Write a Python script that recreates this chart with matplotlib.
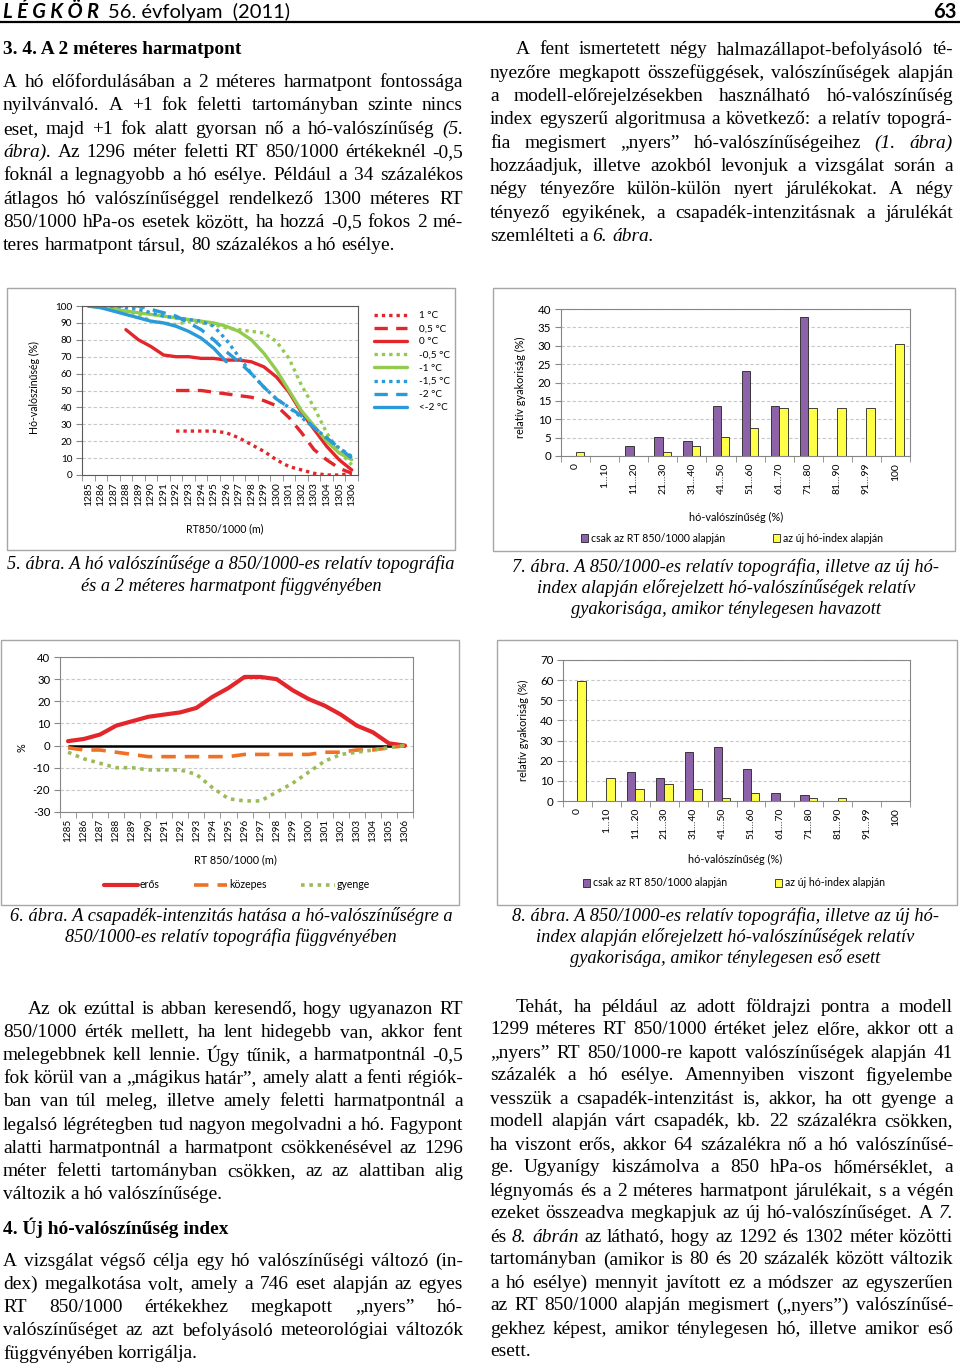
"""
Page 63 of LÉGKÖR 56 (2011): two-column text with figures 5-8
(snow probability vs. RT 850/1000, dew point and precipitation intensity).
"""
import numpy as np
import matplotlib
matplotlib.use("Agg")
import matplotlib.pyplot as plt
from matplotlib.patches import Rectangle
from matplotlib.lines import Line2D

plt.rcParams["axes.unicode_minus"] = False

W, H = 960, 1366
SERIF = "Liberation Serif"
SANS = "Lato"          # closest installed face to Calibri
BODY = 13.95

# ---------------- chart data ----------------
rt = ["1285", "1286", "1287", "1288", "1289", "1290", "1291", "1292", "1293", "1294", "1295",
      "1296", "1297", "1298", "1299", "1300", "1301", "1302", "1303", "1304", "1305", "1306"]

# fig 5: snow probability (%) by 2 m dew point class
dew_labels = ["1 °C", "0,5 °C", "0 °C", "-0,5 °C", "-1 °C", "-1,5 °C", "-2 °C", "<-2 °C"]
p_1 = [None] * 7 + [26, 26, 26, 26, 25, 22, 18, 14, 9, 5, 3, 1, 0, 0, 1]
p_05 = [None] * 7 + [50, 50, 50, 49, 48, 47, 46, 44, 41, 34, 25, 15, 9, 4, 1]
p_0 = [None] * 3 + [86, 80, 76, 71, 70, 70, 69, 69, 68, 68, 67, 64, 58, 49, 37, 27, 17, 9, 3]
p_m05 = [100, 100, 98, 97, 95, 91, 90, 89, 91, 90, 89, 87, 86, 85, 84, 79, 69, 53, 40, 25, 14, 6]
p_m1 = [100, 99, 98, 97, 96, 95, 94, 93, 92, 91, 90, 88, 85, 80, 72, 62, 50, 38, 29, 20, 13, 9]
p_m15 = [100, 100, 100, 99, 98, 96, 94, 93, 92, 91, 88, 80, 70, 60, 52, 45, 40, 34, 28, 22, 16, 11]
p_m2 = [100, 100, 100, 100, 100, 98, 96, 94, 90, 86, 80, 73, 67, 60, 52, 45, 40, 35, 28, 22, 16, 10]
p_lt2 = [100, 99, 97, 95, 93, 91, 90, 88, 85, 81, 75, 67] + [None] * 10

# fig 6: precipitation-intensity contribution (%)
eros = [2, 3, 5, 9, 11, 13, 14, 15, 17, 22, 26, 31, 31, 30, 25, 21, 18, 14, 9, 6, 1, 0]
kozepes = [-1, -2, -2, -3, -4, -5, -5, -5, -5, -5, -5, -4, -4, -4, -4, -4, -3, -3, -2, -2, -1, 0]
gyenge = [-3, -6, -8, -10, -10, -11, -11, -11, -13, -19, -24, -25, -25, -21, -17, -12, -7, -4, -3, -2, -1, 0]

# fig 7 / fig 8: relative frequency (%) of forecast probability classes
prob_bins = ["0", "1...10", "11...20", "21...30", "31...40", "41...50", "51...60",
             "61...70", "71...80", "81...90", "91...99", "100"]
snow_rt = [0, 0, 2.8, 5.1, 4.0, 13.6, 23.1, 13.6, 37.8, 0, 0, 0]
snow_idx = [1.1, 0, 0, 1.1, 2.8, 5.1, 7.5, 13.0, 13.0, 13.0, 13.0, 30.5]
rain_rt = [0, 0, 14.2, 11.3, 24.2, 27.0, 15.7, 4.2, 2.8, 0, 0, 0]
rain_idx = [59.8, 11.3, 5.8, 8.4, 5.8, 1.3, 4.1, 0, 1.3, 1.3, 0, 0]

# ---------------- page text ----------------
left_top = [
    "A hó előfordulásában a 2 méteres harmatpont fontossága",
    "nyilvánvaló. A +1 fok feletti tartományban szinte nincs",
    "eset, majd +1 fok alatt gyorsan nő a hó-valószínűség ~(5.",
    "~ábra). Az 1296 méter feletti RT 850/1000 értékeknél -0,5",
    "foknál a legnagyobb a hó esélye. Például a 34 százalékos",
    "átlagos hó valószínűséggel rendelkező 1300 méteres RT",
    "850/1000 hPa-os esetek között, ha hozzá -0,5 fokos 2 mé-",
    "teres harmatpont társul, 80 százalékos a hó esélye.",
]
right_top = [
    "A fent ismertetett négy halmazállapot-befolyásoló té-",
    "nyezőre megkapott összefüggések, valószínűségek alapján",
    "a modell-előrejelzésekben használható hó-valószínűség",
    "index egyszerű algoritmusa a következő: a relatív topográ-",
    "fia megismert „nyers” hó-valószínűségeihez ~(1. ~ábra)",
    "hozzáadjuk, illetve azokból levonjuk a vizsgálat során a",
    "négy tényezőre külön-külön nyert járulékokat. A négy",
    "tényező egyikének, a csapadék-intenzitásnak a járulékát",
    "szemlélteti a ~6. ~ábra.",
]
left_bottom = [
    "Az ok ezúttal is abban keresendő, hogy ugyanazon RT",
    "850/1000 érték mellett, ha lent hidegebb van, akkor fent",
    "melegebbnek kell lennie. Úgy tűnik, a harmatpontnál -0,5",
    "fok körül van a „mágikus határ”, amely alatt a fenti régiók-",
    "ban van túl meleg, illetve amely feletti harmatpontnál a",
    "legalsó légrétegben tud nagyon megolvadni a hó. Fagypont",
    "alatti harmatpontnál a harmatpont csökkenésével az 1296",
    "méter feletti tartományban csökken, az az alattiban alig",
    "változik a hó valószínűsége.",
]
left_bottom2 = [
    "A vizsgálat végső célja egy hó valószínűségi változó (in-",
    "dex) megalkotása volt, amely a 746 eset alapján az egyes",
    "RT 850/1000 értékekhez megkapott „nyers” hó-",
    "valószínűséget az azt befolyásoló meteorológiai változók",
    "függvényében korrigálja.",
]
right_bottom = [
    "Tehát, ha például az adott földrajzi pontra a modell",
    "1299 méteres RT 850/1000 értéket jelez előre, akkor ott a",
    "„nyers” RT 850/1000-re kapott valószínűségek alapján 41",
    "százalék a hó esélye. Amennyiben viszont figyelembe",
    "vesszük a csapadék-intenzitást is, akkor, ha ott gyenge a",
    "modell alapján várt csapadék, kb. 22 százalékra csökken,",
    "ha viszont erős, akkor 64 százalékra nő a hó valószínűsé-",
    "ge. Ugyanígy kiszámolva a 850 hPa-os hőmérséklet, a",
    "légnyomás és a 2 méteres harmatpont járulékait, s a végén",
    "ezeket összeadva megkapjuk az új hó-valószínűséget. A ~7.",
    "és ~8. ~ábrán az látható, hogy az 1292 és 1302 méter közötti",
    "tartományban (amikor is 80 és 20 százalék között változik",
    "a hó esélye) mennyit javított ez a módszer az egyszerűen",
    "az RT 850/1000 alapján megismert („nyers”) valószínűsé-",
    "gekhez képest, amikor ténylegesen hó, illetve amikor eső",
    "esett.",
]
cap5 = ["5. ábra. A hó valószínűsége a 850/1000-es relatív topográfia",
        "és a 2 méteres harmatpont függvényében"]
cap7 = ["7. ábra. A 850/1000-es relatív topográfia, illetve az új hó-",
        "index alapján előrejelzett hó-valószínűségek relatív",
        "gyakorisága, amikor ténylegesen havazott"]
cap6 = ["6. ábra. A csapadék-intenzitás hatása a hó-valószínűségre a",
        "850/1000-es relatív topográfia függvényében"]
cap8 = ["8. ábra. A 850/1000-es relatív topográfia, illetve az új hó-",
        "index alapján előrejelzett hó-valószínűségek relatív",
        "gyakorisága, amikor ténylegesen eső esett"]


def fx(x):
    return x / W


def fy(y):
    return 1 - y / H


def rect(x0, y0, x1, y1):
    return [fx(x0), fy(y1), (x1 - x0) / W, (y1 - y0) / H]


def nan(vals):
    return np.array([np.nan if v is None else v for v in vals], dtype=float)


def paragraph(fig, lines, x0, x1, y0, dy, indent=0, size=BODY):
    """Justified block: every line but the last is stretched to x0..x1."""
    r = fig.canvas.get_renderer()
    probe = fig.text(0, 0, "a a", fontsize=size, family=SERIF)
    probe2 = fig.text(0, 0, "aa", fontsize=size, family=SERIF)
    space = probe.get_window_extent(r).width - probe2.get_window_extent(r).width
    probe.remove(); probe2.remove()
    for i, line in enumerate(lines):
        texts, widths = [], []
        for w in line.split():
            st = "normal"
            if w.startswith("~"):
                w, st = w[1:], "italic"
            t = fig.text(0, 0, w, fontsize=size, family=SERIF, style=st,
                         ha="left", va="center")
            texts.append(t)
            widths.append(t.get_window_extent(r).width)
        start = x0 + (indent if i == 0 else 0)
        if i == len(lines) - 1 or len(texts) < 2:
            gap = space
        else:
            gap = (x1 - start - sum(widths)) / (len(texts) - 1)
        x = start
        for t, w in zip(texts, widths):
            t.set_position((fx(x), fy(y0 + i * dy)))
            x += w + gap


def caption(fig, lines, xc, ys, size=13.2):
    for line, y in zip(lines, ys):
        fig.text(fx(xc), fy(y), line, fontsize=size, family=SERIF, style="italic",
                 ha="center", va="center")


def box(fig, x0, y0, x1, y1):
    fig.add_artist(Rectangle((fx(x0), fy(y1)), (x1 - x0) / W, (y1 - y0) / H,
                             transform=fig.transFigure, fill=False,
                             edgecolor="#A6A6A6", lw=1.0))


def cat_axis(ax, labels, size):
    n = len(labels)
    ax.set_xlim(-0.5, n - 0.5)
    ax.set_xticks(np.arange(n))
    ax.set_xticklabels(labels, rotation=90, fontsize=size, family=SANS)
    ax.set_xticks(np.arange(n + 1) - 0.5, minor=True)
    ax.tick_params(axis="x", which="major", length=0, pad=5)
    ax.tick_params(axis="x", which="minor", length=4, color="#868686", direction="out")


def frame(ax, ysize, color="#868686"):
    for s in ax.spines.values():
        s.set_color(color)
        s.set_linewidth(0.8)
    ax.grid(axis="y", color="#C8C8C8", linestyle=(0, (3, 2)), linewidth=0.8)
    ax.set_axisbelow(True)
    ax.tick_params(axis="y", direction="out", length=4, color="#868686",
                   labelsize=ysize, pad=3)
    for lab in ax.get_yticklabels():
        lab.set_family(SANS)


fig = plt.figure(figsize=(W / 100, H / 100), dpi=100)
fig.patch.set_facecolor("white")

# ---------------- header ----------------
r = fig.canvas.get_renderer()
t = fig.text(fx(3), fy(12), "L É G K Ö R", fontsize=14.5, family=SANS,
             weight="bold", style="italic", ha="left", va="center")
wx = t.get_window_extent(r).x1
fig.text(fx(wx + 9), fy(12), "56. évfolyam  (2011)", fontsize=14.5, family=SANS,
         ha="left", va="center")
fig.text(fx(957), fy(12), "63", fontsize=14.5, family=SANS, weight="bold",
         ha="right", va="center")
fig.add_artist(Line2D([0, 1], [fy(22), fy(22)], transform=fig.transFigure,
                      color="black", lw=1.6))

# ---------------- text columns ----------------
fig.text(fx(3), fy(49), "3. 4. A 2 méteres harmatpont", fontsize=BODY, family=SERIF,
         weight="bold", ha="left", va="center")
paragraph(fig, left_top, 3, 463, 82.5, 23.3)
paragraph(fig, right_top, 490, 953, 50, 23.3, indent=26)
paragraph(fig, left_bottom, 3, 463, 1009, 23.2, indent=25)
fig.text(fx(3), fy(1228), "4. Új hó-valószínűség index", fontsize=BODY, family=SERIF,
         weight="bold", ha="left", va="center")
paragraph(fig, left_bottom2, 3, 463, 1261, 23.2)
paragraph(fig, right_bottom, 490, 953, 1007, 23.0, indent=26)

caption(fig, cap5, 231, [564, 586])
caption(fig, cap7, 726, [567, 588, 609])
caption(fig, cap6, 231, [916, 937])
caption(fig, cap8, 725, [916, 937, 958])

RED, GREEN, BLUE = "#E2262B", "#92CB4F", "#2A9AD8"
PURPLE, YELLOW = "#8E62A9", "#FFFF47"

# ---------------- fig 5 ----------------
box(fig, 7, 288, 455, 550)
ax5 = fig.add_axes(rect(82, 306, 358, 475))
x = np.arange(len(rt))
styles5 = [
    (p_1, RED, (0, (1, 1.2))), (p_05, RED, (0, (4, 2.5))), (p_0, RED, "-"),
    (p_m05, GREEN, (0, (1, 1.2))), (p_m1, GREEN, "-"),
    (p_m15, BLUE, (0, (1, 1.2))), (p_m2, BLUE, (0, (4, 2.5))), (p_lt2, BLUE, "-"),
]
for (vals, col, ls), lab in zip(styles5, dew_labels):
    ax5.plot(x, nan(vals), color=col, ls=ls, lw=2.4, label=lab,
             solid_capstyle="round", dash_capstyle="butt")
ax5.set_ylim(0, 100)
ax5.set_yticks(np.arange(0, 101, 10))
cat_axis(ax5, rt, 7.4)
frame(ax5, 7.2, color="#595959")
fig.text(fx(34), fy(387), "Hó-valószínűség (%)", rotation=90, fontsize=7.6,
         family=SANS, ha="center", va="center")
fig.text(fx(225), fy(529), "RT850/1000 (m)", fontsize=7.6, family=SANS,
         ha="center", va="center")
ax5.legend(loc="upper left", bbox_to_anchor=(fx(370), fy(307)),
           bbox_transform=fig.transFigure, frameon=False, prop={"family": SANS, "size": 7.2},
           handlelength=3.3, labelspacing=0.42, handletextpad=1.2, borderaxespad=0)

# ---------------- fig 7 ----------------
box(fig, 493, 288, 955, 551)
ax7 = fig.add_axes(rect(561, 309, 910, 456))
xb = np.arange(len(prob_bins))
bw = 0.29
ax7.bar(xb - bw / 2, snow_rt, bw, color=PURPLE, edgecolor="#222222", lw=0.6,
        label="csak az RT 850/1000 alapján")
ax7.bar(xb + bw / 2, snow_idx, bw, color=YELLOW, edgecolor="#222222", lw=0.6,
        label="az új hó-index alapján")
ax7.set_ylim(0, 40)
ax7.set_yticks(np.arange(0, 41, 5))
cat_axis(ax7, prob_bins, 7.5)
frame(ax7, 8.3)
fig.text(fx(520), fy(387), "relatív gyakoriság (%)", rotation=90, fontsize=7.8,
         family=SANS, ha="center", va="center")
fig.text(fx(736), fy(517), "hó-valószínűség (%)", fontsize=7.8, family=SANS,
         ha="center", va="center")
ax7.legend(loc="center", bbox_to_anchor=(fx(732), fy(538)), bbox_transform=fig.transFigure,
           ncol=2, frameon=False, prop={"family": SANS, "size": 7.6}, handlelength=0.7,
           handleheight=0.7, handletextpad=0.3, columnspacing=4.5, borderaxespad=0)

# ---------------- fig 6 ----------------
box(fig, 1, 640, 459, 905)
ax6 = fig.add_axes(rect(60, 657, 413, 812))
ax6.plot(x, eros, color="#E2262B", lw=3.0, label="erős", solid_capstyle="round")
ax6.plot(x, kozepes, color="#F07026", lw=2.6, ls=(0, (4, 2.5)), label="közepes")
ax6.plot(x, gyenge, color="#9BBB59", lw=2.6, ls=(0, (1, 1.3)), label="gyenge")
ax6.hlines(0, x[0], x[-1], color="black", lw=1.8, zorder=1.5)
ax6.set_ylim(-30, 40)
ax6.set_yticks(np.arange(-30, 41, 10))
cat_axis(ax6, rt, 7.2)
frame(ax6, 8.2)
fig.text(fx(22), fy(748), "%", rotation=90, fontsize=7.8, family=SANS,
         ha="center", va="center")
fig.text(fx(235), fy(860), "RT 850/1000 (m)", fontsize=7.8, family=SANS,
         ha="center", va="center")
ax6.legend(loc="center", bbox_to_anchor=(fx(237), fy(885)), bbox_transform=fig.transFigure,
           ncol=3, frameon=False, prop={"family": SANS, "size": 7.6}, handlelength=3.2,
           handletextpad=0.2, columnspacing=3.2, borderaxespad=0)

# ---------------- fig 8 ----------------
box(fig, 497, 640, 957, 905)
ax8 = fig.add_axes(rect(563, 660, 910, 801))
ax8.bar(xb - bw / 2, rain_rt, bw, color=PURPLE, edgecolor="#222222", lw=0.6,
        label="csak az RT 850/1000 alapján")
ax8.bar(xb + bw / 2, rain_idx, bw, color=YELLOW, edgecolor="#222222", lw=0.6,
        label="az új hó-index alapján")
ax8.set_ylim(0, 70)
ax8.set_yticks(np.arange(0, 71, 10))
cat_axis(ax8, prob_bins, 7.5)
frame(ax8, 8.3)
fig.text(fx(523), fy(730), "relatív gyakoriság (%)", rotation=90, fontsize=7.8,
         family=SANS, ha="center", va="center")
fig.text(fx(735), fy(859), "hó-valószínűség (%)", fontsize=7.8, family=SANS,
         ha="center", va="center")
ax8.legend(loc="center", bbox_to_anchor=(fx(734), fy(883)), bbox_transform=fig.transFigure,
           ncol=2, frameon=False, prop={"family": SANS, "size": 7.6}, handlelength=0.7,
           handleheight=0.7, handletextpad=0.3, columnspacing=4.5, borderaxespad=0)

fig.savefig("out.png", dpi=100)
plt.close(fig)
